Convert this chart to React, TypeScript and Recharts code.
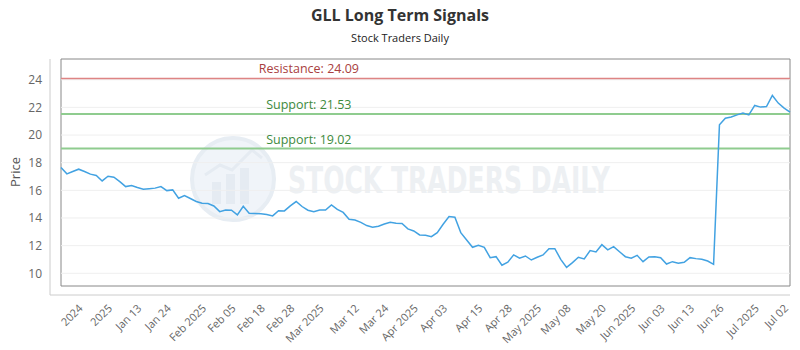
import React from 'react';
import { LineChart, Line, XAxis, YAxis, ReferenceLine, ReferenceArea } from 'recharts';

const prices = [
  17.65, 17.19, 17.36, 17.53, 17.36, 17.17, 17.07, 16.68, 17.02, 16.95,
  16.63, 16.27, 16.34, 16.2, 16.08, 16.12, 16.16, 16.27, 15.98, 16.03,
  15.43, 15.62, 15.41, 15.19, 15.07, 15.04, 14.87, 14.46, 14.58, 14.56,
  14.22, 14.85, 14.34, 14.32, 14.3, 14.25, 14.15, 14.53, 14.51, 14.88,
  15.19, 14.83, 14.56, 14.46, 14.58, 14.58, 14.95, 14.62, 14.4, 13.91,
  13.85, 13.68, 13.45, 13.33, 13.4, 13.56, 13.69, 13.62, 13.6, 13.21,
  13.06, 12.77, 12.75, 12.65, 12.94, 13.55, 14.1, 14.05, 12.94, 12.41,
  11.88, 12.03, 11.88, 11.13, 11.2, 10.58, 10.8, 11.33, 11.09, 11.25,
  10.96, 11.16, 11.33, 11.78, 11.78, 11.01, 10.43, 10.77, 11.16, 11.04,
  11.64, 11.54, 12.07, 11.69, 11.93, 11.56, 11.2, 11.09, 11.3, 10.84,
  11.18, 11.2, 11.13, 10.67, 10.84, 10.72, 10.8, 11.13, 11.06, 11.01,
  10.89, 10.65, 20.74, 21.22, 21.3, 21.46, 21.59, 21.46, 22.14, 22.02,
  22.06, 22.86, 22.31, 21.95, 21.66,
];

const tickIndices = [4, 9, 14, 19, 25, 30, 35, 40, 45, 51, 56, 61, 66, 72, 77, 82, 87, 93, 98, 103, 108, 113, 119, 124];
const tickLabels = [
  '2024', '2025', 'Jan 13', 'Jan 24', 'Feb 2025', 'Feb 05', 'Feb 18', 'Feb 28',
  'Mar 2025', 'Mar 12', 'Mar 24', 'Apr 2025', 'Apr 03', 'Apr 15', 'Apr 28', 'May 2025',
  'May 08', 'May 20', 'Jun 2025', 'Jun 03', 'Jun 13', 'Jun 26', 'Jul 2025', 'Jul 02',
];
const yTicks = [10, 12, 14, 16, 18, 20, 22, 24];
const yDomain: [number, number] = [9.08, 25.5];
const resistanceLevel = 24.09;
const supportLevels = [21.53, 19.02];

const data = prices.map((price, i) => ({ i, price }));
const lastIndex = prices.length - 1;

const FONT = "'Open Sans', 'DejaVu Sans', sans-serif";

const XTick = (props: any) => {
  const { x, y, payload } = props;
  const idx = tickIndices.indexOf(payload.value);
  const label = idx >= 0 ? tickLabels[idx] : '';
  return (
    <g transform={`translate(${x - 1},${y + 6}) rotate(-45)`}>
      <text x={0} y={0} textAnchor="end" fontSize={11} fill="#666" fontFamily={FONT}>
        {label}
      </text>
    </g>
  );
};

const makeRefLabel = (text: string, color: string) => (props: any) => {
  const vb = props.viewBox || {};
  return (
    <text
      x={vb.x + vb.width * 0.34}
      y={vb.y - 5}
      textAnchor="middle"
      fontSize={12.5}
      fill={color}
      fontFamily={FONT}
    >
      {text}
    </text>
  );
};

const PriceLabel = (props: any) => {
  const vb = props.viewBox || {};
  return (
    <text
      transform={`translate(${vb.x + 20},${vb.y + vb.height / 2 - 5}) rotate(-90)`}
      textAnchor="middle"
      fontSize={13}
      fill="#555"
      fontFamily={FONT}
    >
      Price
    </text>
  );
};

export default function App() {
  return (
    <div style={{ position: 'absolute', left: 0, top: 0, width: 800, height: 350, background: '#fff' }}>
      <svg width={800} height={350} style={{ position: 'absolute', left: 0, top: 0 }}>
        <text x={400} y={21} textAnchor="middle" fontSize={16} fontWeight="bold" fill="#333" fontFamily={FONT}>
          GLL Long Term Signals
        </text>
        <text x={400} y={42} textAnchor="middle" fontSize={11} fill="#222" fontFamily={FONT}>
          Stock Traders Daily
        </text>
        <g opacity={0.85}>
          <circle cx={233} cy={179} r={41} fill="#eef3f8" stroke="#e3eaf2" strokeWidth={4} />
          <rect x={212} y={182} width={9} height={22} fill="#e1e8f0" />
          <rect x={226} y={174} width={9} height={30} fill="#e1e8f0" />
          <rect x={240} y={168} width={9} height={36} fill="#e1e8f0" />
          <polyline points="205,175 220,165 232,170 252,150 262,158" fill="none" stroke="#e1e8f0" strokeWidth={3} />
        </g>
        <text
          x={288}
          y={193}
          fontSize={38}
          fontWeight="bold"
          fill="#edf0f3"
          fontFamily="'DejaVu Sans Condensed', 'DejaVu Sans', sans-serif"
          textLength={322}
          lengthAdjust="spacingAndGlyphs"
        >
          STOCK TRADERS DAILY
        </text>
      </svg>
      <div style={{ position: 'absolute', left: 0, top: 0 }}>
        <LineChart width={800} height={350} data={data} margin={{ top: 59, right: 10, bottom: 0, left: 0 }}>
          <XAxis
            type="number"
            dataKey="i"
            domain={[0, lastIndex]}
            ticks={tickIndices}
            interval={0}
            padding={{ left: 11, right: 0 }}
            tickLine={false}
            axisLine={{ stroke: '#ccc' }}
            height={55}
            tick={(p: any) => <XTick {...p} />}
          />
          <YAxis
            type="number"
            domain={yDomain}
            ticks={yTicks}
            allowDataOverflow
            width={50}
            padding={{ top: 0, bottom: 9 }}
            tickLine={false}
            axisLine={{ stroke: '#ccc' }}
            tick={{ fontSize: 12, fill: '#666', fontFamily: FONT }}
            label={(p: any) => <PriceLabel {...p} />}
          />
          {yTicks.map((v) => (
            <ReferenceLine
              key={`g${v}`}
              segment={[{ x: 0, y: v }, { x: lastIndex, y: v }]}
              stroke="#efefef"
              strokeWidth={1}
            />
          ))}
          <ReferenceArea x1={0} x2={lastIndex} y1={yDomain[0]} y2={yDomain[1]} fill="none" fillOpacity={0} stroke="#888" strokeWidth={1} />
          <ReferenceLine
            segment={[{ x: 0, y: resistanceLevel }, { x: lastIndex, y: resistanceLevel }]}
            stroke="#de8484"
            strokeWidth={1.5}
            label={makeRefLabel(`Resistance: ${resistanceLevel.toFixed(2)}`, '#a94040')}
          />
          {supportLevels.map((s) => (
            <ReferenceLine
              key={`s${s}`}
              segment={[{ x: 0, y: s }, { x: lastIndex, y: s }]}
              stroke="#8fcc8f"
              strokeWidth={2}
              label={makeRefLabel(`Support: ${s.toFixed(2)}`, '#3d8a3d')}
            />
          ))}
          <Line
            type="linear"
            dataKey="price"
            stroke="#42a2e2"
            strokeWidth={1.5}
            dot={false}
            isAnimationActive={false}
          />
        </LineChart>
      </div>
    </div>
  );
}
